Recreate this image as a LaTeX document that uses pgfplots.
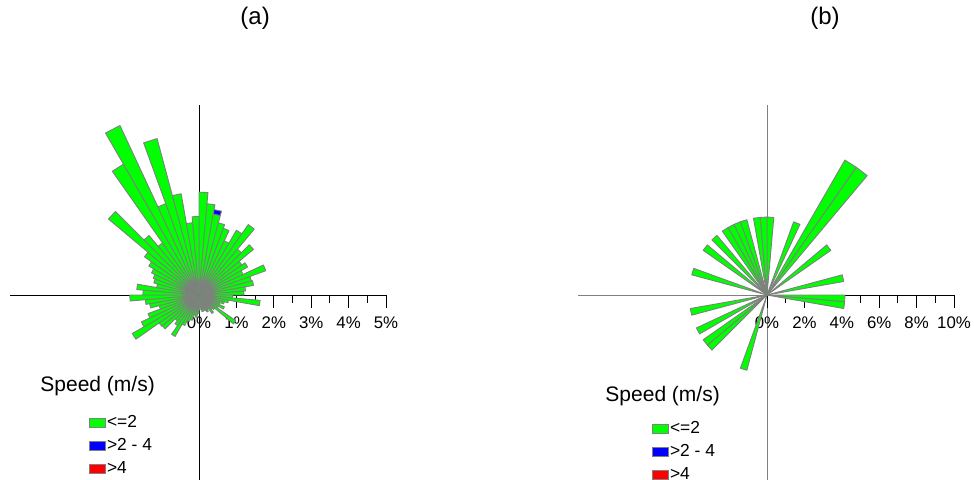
\documentclass[border=0pt]{standalone}
\usepackage{pgfplots}
\pgfplotsset{compat=1.18}
\usepackage{fontspec}
\setmainfont{Liberation Sans}

\definecolor{rosegreen}{RGB}{0,255,0}
\definecolor{roseblue}{RGB}{0,0,255}
\definecolor{rosered}{RGB}{255,0,0}
\definecolor{edgegray}{RGB}{128,128,128}

\newcommand{\ticklabelfont}{\fontsize{8.4}{10}\selectfont}
\newcommand{\titlefont}{\fontsize{12}{14}\selectfont}
\newcommand{\keyfont}{\fontsize{10.5}{12}\selectfont}

\pgfplotsset{
  rose/.style={
    hide axis, clip=false, anchor=origin,
    legend cell align=left,
    legend image code/.code={\draw[##1] (0pt,-2.25pt) rectangle (8pt,2.25pt);},
    legend style={draw=none, fill=none, inner sep=0pt, outer sep=0pt,
      font=\fontsize{8.7}{10}\selectfont, row sep=2.85pt,
      nodes={inner sep=0.6pt}},
  },
  wedge/.style={forget plot, data cs=polar, fill=rosegreen, draw=edgegray,
    line width=0.45pt, line join=round},
}

\begin{document}
\begin{tikzpicture}

%% ---------------- (a) ----------------
\begin{axis}[rose, at={(99.5pt,92pt)}, x=18.7pt, y=18.7pt,
  xmin=-5, xmax=5, ymin=-5, ymax=5,
  legend style={at={(0.206,0.182)}, anchor=north west}]
  \addlegendimage{fill=rosegreen, draw=edgegray}\addlegendentry{<=2}
  \addlegendimage{fill=roseblue, draw=edgegray}\addlegendentry{>2 - 4}
  \addlegendimage{fill=rosered, draw=edgegray}\addlegendentry{>4}

  % cross and percentage scale
  \draw[black, line width=0.5pt] (axis cs:-5.05,0) -- (axis cs:5,0);
  \draw[black, line width=0.5pt] (axis cs:0,5.08) -- (axis cs:0,-5.2);
  \pgfplotsinvokeforeach{0,1,2,3,4,5}{
    \draw[black, line width=0.5pt] (axis cs:#1,0) -- ([yshift=-6.5pt]axis cs:#1,0);
    \node[font=\ticklabelfont, inner sep=0pt] at (axis cs:#1,-0.75) {#1\%};
  }
  \pgfplotsinvokeforeach{0.5,1.5,2.5,3.5,4.5}{
    \draw[black, line width=0.5pt] (axis cs:#1,0) -- ([yshift=-4pt]axis cs:#1,0);
  }

  % frequency by direction sector (centre bearing / percent), speed <= 2 m/s
  \foreach \d/\r in {
    2.5/2.75, 7.5/2.45, 12.5/2.2, 17.5/2.0, 22.5/1.9, 27.5/1.6,
    32.5/2.0, 37.5/2.3, 42.5/1.6, 47.5/1.9, 52.5/1.4, 57.5/1.5,
    62.5/1.3, 67.5/1.9, 72.5/1.45, 77.5/1.48, 82.5/1.25, 87.5/1.2,
    92.5/0.9, 97.5/1.64, 102.5/0.8, 107.5/0.7, 112.5/0.6, 117.5/0.75,
    122.5/0.6, 127.5/1.2, 132.5/0.55, 137.5/0.5, 142.5/0.6, 147.5/0.45,
    152.5/0.5, 157.5/0.45, 162.5/0.4, 167.5/0.45, 172.5/0.35, 177.5/0.4,
    182.5/0.5, 187.5/0.6, 192.5/0.55, 197.5/0.7, 202.5/0.75, 207.5/0.9,
    212.5/1.28, 217.5/1.0, 222.5/0.9, 227.5/1.28, 232.5/1.3, 237.5/2.06,
    242.5/1.7, 247.5/1.45, 252.5/1.1, 257.5/1.34, 262.5/1.44, 267.5/1.85,
    272.5/1.5, 277.5/1.67, 282.5/1.15, 287.5/1.25, 292.5/1.3, 297.5/1.4,
    302.5/1.55, 307.5/1.78, 312.5/3.16, 317.5/2.08, 322.5/1.7, 327.5/4.04,
    332.5/5.0, 337.5/2.6, 342.5/4.33, 347.5/2.75, 352.5/1.94, 357.5/2.1}{
    \pgfmathsetmacro\aa{92.5-\d}
    \pgfmathsetmacro\ab{87.5-\d}
    \edef\temp{\noexpand\addplot[wedge] coordinates {(\aa,0) (\aa,\r) (\ab,\r) (\ab,0)} --cycle;}
    \temp
  }
  % speed 2-4 m/s, stacked on the 12.5 degree sector
  \addplot[wedge, fill=roseblue] coordinates {(80,2.2) (80,2.32) (75,2.32) (75,2.2)} --cycle;

  \node[font=\titlefont] at (axis cs:1.5,7.4) {(a)};
  \node[font=\keyfont, anchor=west, inner sep=0pt] at (axis cs:-4.25,-2.44) {Speed (m/s)};
\end{axis}

%% ---------------- (b) ----------------
\begin{axis}[rose, at={(383.5pt,92pt)}, x=9.35pt, y=9.35pt,
  xmin=-10, xmax=10, ymin=-10, ymax=10,
  legend style={at={(0.1925,0.1665)}, anchor=north west}]
  \addlegendimage{fill=rosegreen, draw=edgegray}\addlegendentry{<=2}
  \addlegendimage{fill=roseblue, draw=edgegray}\addlegendentry{>2 - 4}
  \addlegendimage{fill=rosered, draw=edgegray}\addlegendentry{>4}

  \draw[edgegray, line width=0.5pt] (axis cs:-10.1,0) -- (axis cs:0,0);
  \draw[edgegray, line width=0.5pt] (axis cs:0,10.16) -- (axis cs:0,-10.4);
  \draw[black, line width=0.5pt] (axis cs:0,0) -- (axis cs:10,0);
  \pgfplotsinvokeforeach{0,2,4,6,8,10}{
    \draw[black, line width=0.5pt] (axis cs:#1,0) -- ([yshift=-6.5pt]axis cs:#1,0);
    \node[font=\ticklabelfont, inner sep=0pt] at (axis cs:#1,-1.5) {#1\%};
  }
  \pgfplotsinvokeforeach{1,3,5,7,9}{
    \draw[black, line width=0.5pt] (axis cs:#1,0) -- ([yshift=-4pt]axis cs:#1,0);
  }

  \foreach \d/\r in {
    2.5/4.1667, 22.5/4.1667, 32.5/8.3333, 37.5/8.3333, 52.5/4.1667,
    77.5/4.1667, 92.5/4.1667, 97.5/4.1667, 197.5/4.1667, 227.5/4.1667,
    232.5/4.1667, 242.5/4.1667, 257.5/4.1667, 287.5/4.1667, 307.5/4.1667,
    317.5/4.1667, 327.5/4.1667, 332.5/4.1667, 337.5/4.1667, 342.5/4.1667,
    352.5/4.1667, 357.5/4.1667}{
    \pgfmathsetmacro\aa{92.5-\d}
    \pgfmathsetmacro\ab{87.5-\d}
    \edef\temp{\noexpand\addplot[wedge] coordinates {(\aa,0) (\aa,\r) (\ab,\r) (\ab,0)} --cycle;}
    \temp
  }

  \node[font=\titlefont] at (axis cs:3.1,14.8) {(b)};
  \node[font=\keyfont, anchor=west, inner sep=0pt] at (axis cs:-8.66,-5.42) {Speed (m/s)};
\end{axis}

\pgfresetboundingbox
\useasboundingbox (0,0) rectangle (487pt,239.5pt);
\end{tikzpicture}
\end{document}
